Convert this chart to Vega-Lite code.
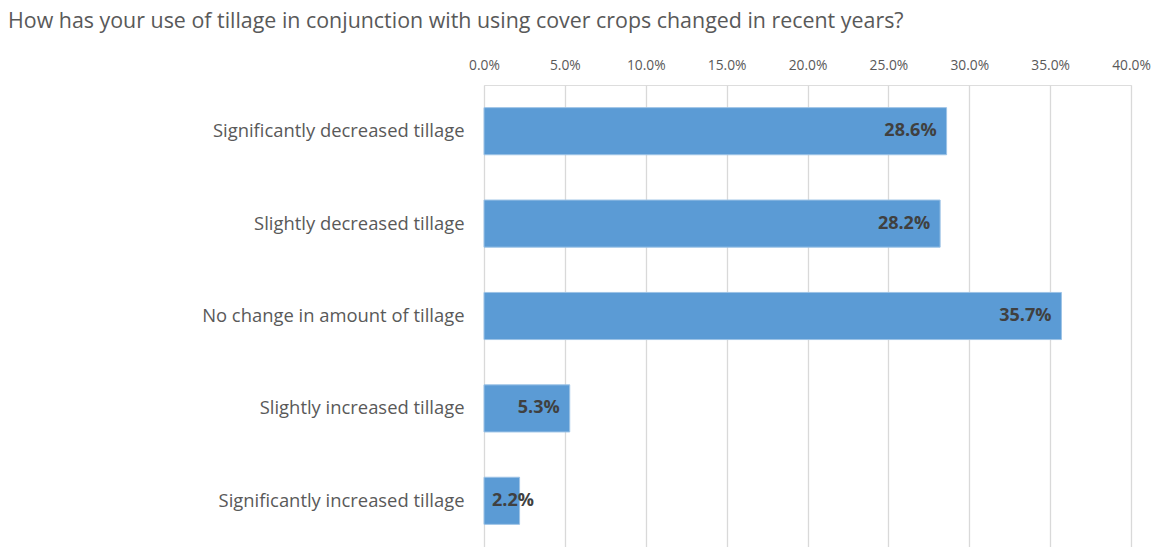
{
  "$schema": "https://vega.github.io/schema/vega-lite/v6.json",
  "width": 647,
  "height": 462,
  "autosize": {"type": "none"},
  "padding": {"left": 484, "top": 85, "right": 31, "bottom": 0},
  "background": "white",
  "title": {
    "text": "How has your use of tillage in conjunction with using cover crops changed in recent years?",
    "anchor": "start",
    "frame": "group",
    "dx": -476,
    "offset": 26,
    "font": "Open Sans",
    "fontSize": 21.4,
    "fontWeight": "normal",
    "color": "#595959"
  },
  "data": {
    "values": [
      {"category": "Significantly decreased tillage", "value": 28.6},
      {"category": "Slightly decreased tillage", "value": 28.2},
      {"category": "No change in amount of tillage", "value": 35.7},
      {"category": "Slightly increased tillage", "value": 5.3},
      {"category": "Significantly increased tillage", "value": 2.2}
    ]
  },
  "transform": [{"calculate": "format(datum.value, '.1f') + '%'", "as": "label"}],
  "encoding": {
    "y": {
      "field": "category",
      "type": "nominal",
      "sort": null,
      "scale": {"paddingInner": 0.49, "paddingOuter": 0.245},
      "axis": {
        "title": null,
        "domain": false,
        "ticks": false,
        "labelPadding": 20,
        "labelFont": "Open Sans",
        "labelFontSize": 18.4,
        "labelColor": "#595959",
        "labelLimit": 450
      }
    }
  },
  "layer": [
    {
      "mark": {"type": "bar", "color": "#5B9BD5", "stroke": "#9DC3E6", "strokeWidth": 1},
      "encoding": {
        "x": {
          "field": "value",
          "type": "quantitative",
          "scale": {"domain": [0, 40]},
          "axis": {
            "orient": "top",
            "title": null,
            "values": [0, 5, 10, 15, 20, 25, 30, 35, 40],
            "labelExpr": "format(datum.value, '.1f') + '%'",
            "labelFlush": false,
            "labelOverlap": false,
            "domain": false,
            "ticks": false,
            "grid": true,
            "gridColor": "#D9D9D9",
            "gridWidth": 1.3,
            "labelPadding": 13,
            "labelFont": "Open Sans",
            "labelFontSize": 13.8,
            "labelColor": "#595959"
          }
        }
      }
    },
    {
      "transform": [{"filter": "datum.value >= 3"}],
      "mark": {"type": "text", "align": "right", "dx": -10, "font": "Open Sans", "fontSize": 18, "fontWeight": "bold", "color": "#404040"},
      "encoding": {
        "x": {"field": "value", "type": "quantitative"},
        "text": {"field": "label", "type": "nominal"}
      }
    },
    {
      "transform": [{"filter": "datum.value < 3"}],
      "mark": {"type": "text", "align": "left", "dx": 8, "font": "Open Sans", "fontSize": 18, "fontWeight": "bold", "color": "#404040"},
      "encoding": {
        "x": {"datum": 0, "type": "quantitative"},
        "text": {"field": "label", "type": "nominal"}
      }
    }
  ]
}
